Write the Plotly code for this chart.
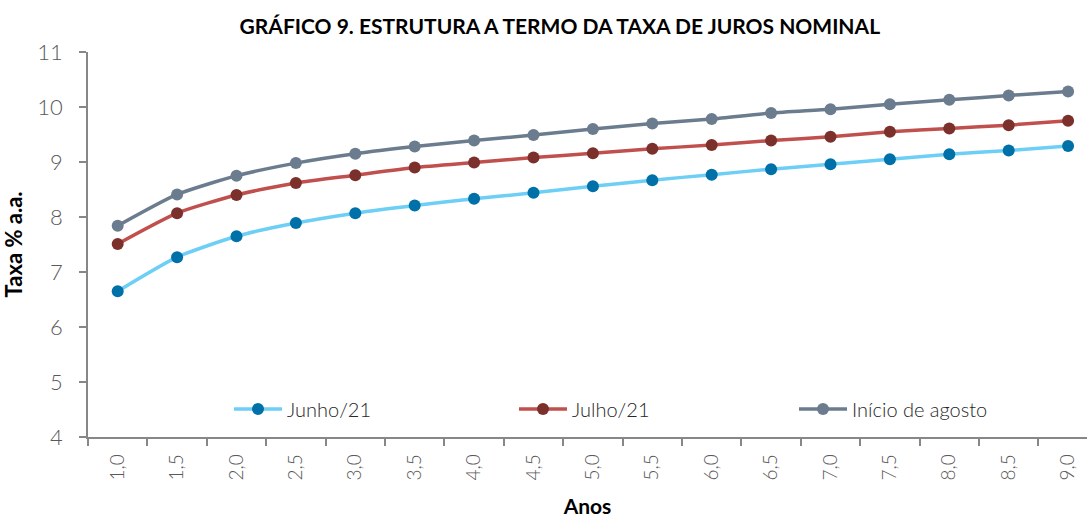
import plotly.graph_objects as go

anos = [1.0, 1.5, 2.0, 2.5, 3.0, 3.5, 4.0, 4.5, 5.0, 5.5, 6.0, 6.5, 7.0, 7.5, 8.0, 8.5, 9.0]
tick_labels = ["1,0", "1,5", "2,0", "2,5", "3,0", "3,5", "4,0", "4,5", "5,0", "5,5",
               "6,0", "6,5", "7,0", "7,5", "8,0", "8,5", "9,0"]
junho = [6.65, 7.27, 7.65, 7.89, 8.07, 8.21, 8.33, 8.44, 8.56, 8.67, 8.77, 8.87, 8.96, 9.05, 9.14, 9.21, 9.29]
julho = [7.51, 8.07, 8.40, 8.62, 8.76, 8.90, 8.99, 9.08, 9.16, 9.24, 9.31, 9.39, 9.46, 9.55, 9.61, 9.67, 9.75]
inicio = [7.84, 8.41, 8.75, 8.98, 9.15, 9.28, 9.39, 9.49, 9.60, 9.70, 9.78, 9.89, 9.96, 10.05, 10.13, 10.21, 10.28]

series = [
    ("Junho/21", junho, "#6DCFF6", "#0070A8", "legend"),
    ("Julho/21", julho, "#C0504D", "#7B302C", "legend2"),
    ("Início de agosto", inicio, "#6B7C8E", "#6B7C8E", "legend3"),
]

fig = go.Figure()
for name, vals, lc, mc, lg in series:
    fig.add_trace(go.Scatter(
        x=anos, y=vals, name=name, mode="lines+markers", legend=lg,
        line=dict(color=lc, width=3.5, shape="spline", smoothing=0.6),
        marker=dict(color=mc, size=12),
    ))

legend_common = dict(orientation="h", xref="paper", yref="paper",
                      xanchor="left", yanchor="middle", y=0.073, itemwidth=48,
                      font=dict(family="Lato", size=20, weight=300, color="#262626"),
                      bgcolor="rgba(0,0,0,0)")

fig.update_layout(
    width=1087, height=518,
    margin=dict(l=88, r=0, t=52, b=81),
    paper_bgcolor="white", plot_bgcolor="white",
    title=dict(text="<b>GRÁFICO 9. ESTRUTURA A TERMO DA TAXA DE JUROS NOMINAL</b>",
               x=0.515, xanchor="center", y=0.948, yanchor="middle",
               font=dict(family="Lato", size=21, color="#000000")),
    showlegend=True,
    legend=dict(x=(229 - 88) / 999, **legend_common),
    legend2=dict(x=(514 - 88) / 999, **legend_common),
    legend3=dict(x=(794 - 88) / 999, **legend_common),
    font=dict(family="Lato"),
)

fig.update_xaxes(
    range=[0.75, 0.75 + 999 / 118.8], automargin=False,
    tickvals=anos, ticktext=tick_labels, tickangle=-90, ticks="", ticklen=0,
    ticklabelstandoff=8,
    tickfont=dict(family="Lato", size=19, weight=300, color="#595959"),
    showline=True, linecolor="#878787", linewidth=1.5,
    showgrid=False, zeroline=False,
    minor=dict(tick0=0.75, dtick=0.5, ticks="outside", ticklen=7, tickcolor="#878787", tickwidth=1.5, showgrid=False),
    title=dict(text="<b>Anos</b>", font=dict(family="Lato", size=21, color="#000000"), standoff=32),
)
fig.update_yaxes(
    range=[4, 11], dtick=1, tick0=4, automargin=False,
    ticks="outside", ticklen=7, tickcolor="#878787", tickwidth=1.5,
    ticklabelstandoff=12,
    tickfont=dict(family="Lato", size=22, weight=300, color="#595959"),
    showline=True, linecolor="#878787", linewidth=1.5,
    showgrid=False, zeroline=False,
    title=dict(text="<b>Taxa % a.a.</b>", font=dict(family="Lato", size=22, color="#000000"), standoff=12),
)

fig.write_html("out.html", config={"displayModeBar": False},
               post_script="document.body.style.margin='0';")
